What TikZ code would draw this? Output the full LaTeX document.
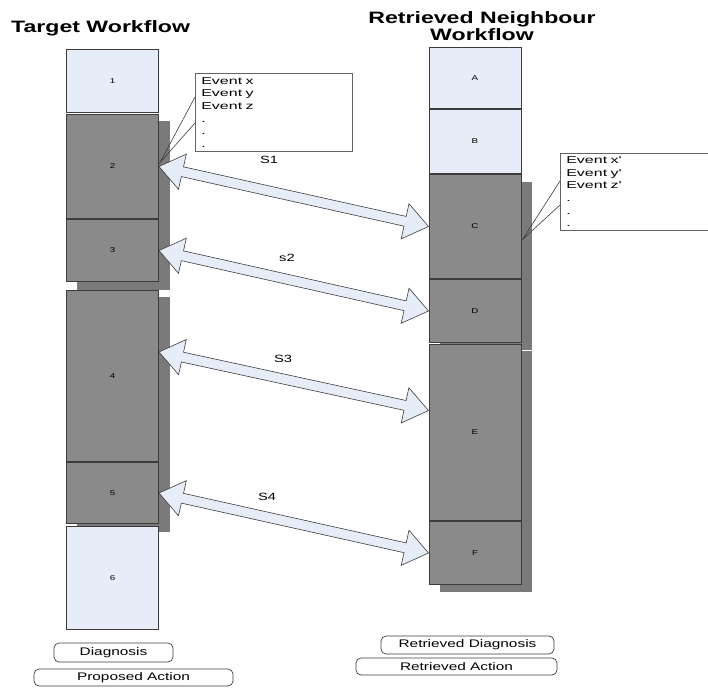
\documentclass[tikz,border=0pt]{standalone}
\usepackage{fontspec}
\setmainfont{Liberation Sans}
\newfontfamily\widefont[FakeStretch=1.4]{Liberation Sans}
\newfontfamily\widerfont[FakeStretch=1.6]{Liberation Sans}
\usetikzlibrary{positioning,calc,backgrounds}

\definecolor{paleblue}{RGB}{230,237,248}
\definecolor{boxgray}{RGB}{138,138,138}
\definecolor{shadowgray}{RGB}{122,122,122}
\definecolor{edgegray}{RGB}{60,60,60}

\tikzset{
  stage/.style = {draw=edgegray, line width=0.7pt, minimum width=92.3pt, inner sep=0pt,
                  font=\widefont\fontsize{7}{8}\selectfont},
  light/.style = {stage, fill=paleblue},
  dark/.style = {stage, fill=boxgray},
  shadow/.style = {fill=shadowgray},
  dblarrow/.style = {draw=edgegray, line width=0.6pt, fill=paleblue, line join=miter},
  callout/.style = {draw=edgegray!80, fill=white, line width=0.6pt, align=left,
                    inner xsep=6pt, inner ysep=0pt, anchor=north west,
                    font=\widerfont\fontsize{10}{12.6}\selectfont},
  tag/.style = {draw=edgegray, rounded corners=5pt, line width=0.7pt, inner sep=0pt,
                font=\widefont\fontsize{11}{12}\selectfont},
  heading/.style = {font=\widefont\bfseries\fontsize{16.5}{17}\selectfont, align=center, inner sep=0pt},
  simlabel/.style = {font=\widefont\fontsize{10.5}{12}\selectfont}
}

% double headed block arrow between two points
\newcommand\blockarrow[2]{%
  \draw[dblarrow] (#1)
    -- ($(#1)!24pt!(#2)!18pt!90:(#2)$) -- ($(#1)!24pt!(#2)!5pt!90:(#2)$)
    -- ($(#2)!24pt!(#1)!5pt!-90:(#1)$) -- ($(#2)!24pt!(#1)!18pt!-90:(#1)$)
    -- (#2)
    -- ($(#2)!24pt!(#1)!18pt!90:(#1)$) -- ($(#2)!24pt!(#1)!5pt!90:(#1)$)
    -- ($(#1)!24pt!(#2)!5pt!-90:(#2)$) -- ($(#1)!24pt!(#2)!18pt!-90:(#2)$)
    -- cycle;}

\begin{document}
\begin{tikzpicture}[x=1pt, y=-1pt]
    \useasboundingbox (0,0) rectangle (708,687);
    \clip (0,0) rectangle (708,687);

    \node[heading, anchor=base west] (ttitle) at (11,33) {Target Workflow};
    \node[heading, anchor=north] (rtitle) at (482,11) {Retrieved Neighbour\\Workflow};

    \begin{scope}[name prefix = target-]
        \node[light, anchor=north, minimum height=63.3pt] (1) at (112.5,49) {1};
        \node[dark, minimum height=104.3pt, below=1pt of 1] (2) {2};
        \node[dark, minimum height=62.3pt, below=0pt of 2] (3) {3};
        \node[dark, minimum height=171.3pt, below=8pt of 3] (4) {4};
        \node[dark, minimum height=61.3pt, below=0pt of 4] (5) {5};
        \node[light, minimum height=103.3pt, below=2pt of 5] (6) {6};
    \end{scope}

    \begin{scope}[name prefix = retr-]
        \node[light, anchor=north, minimum height=61.3pt] (A) at (475,47) {A};
        \node[light, minimum height=64.3pt, below=0pt of A] (B) {B};
        \node[dark, minimum height=104.3pt, below=0pt of B] (C) {C};
        \node[dark, minimum height=63.3pt, below=0pt of C] (D) {D};
        \node[dark, minimum height=176.3pt, below=1pt of D] (E) {E};
        \node[dark, minimum height=63.3pt, below=0pt of E] (F) {F};
    \end{scope}

    \begin{scope}[on background layer]
        \fill[shadow] ($(target-2.north west)+(11,7)$) rectangle ($(target-3.south east)+(11,8)$);
        \fill[shadow] ($(target-4.north west)+(11,7)$) rectangle ($(target-5.south east)+(11,8)$);
        \fill[shadow] ($(retr-C.north west)+(11,8)$) rectangle ($(retr-D.south east)+(10,7)$);
        \fill[shadow] ($(retr-E.north west)+(11,7)$) rectangle ($(retr-F.south east)+(10,7)$);
    \end{scope}

    \coordinate (s3from) at ($(target-4.east)+(0,-24)$);
    \coordinate (s3to) at ($(retr-E.west)+(0,-22)$);
    \foreach \a/\b in {target-2.east/retr-C.west, target-3.east/retr-D.west,
                       s3from/s3to, target-5.east/retr-F.west}
        \blockarrow{\a}{\b};

    \node[simlabel] (S1) at (269,160) {S1};
    \node[simlabel] (S2) at (287,258) {s2};
    \node[simlabel] (S3) at (283,359) {S3};
    \node[simlabel] (S4) at (267,497) {S4};

    % event lists
    \node[callout, text width=145pt, minimum height=78pt] (ev1) at (195,73)
        {Event x\\Event y\\Event z\\.\\.\\.};
    \coordinate (ptr1) at ($(target-2.east)+(1,-4)$);
    \draw[edgegray, line width=0.6pt] ($(ev1.north west)+(0,24)$) -- (ptr1) -- ($(ev1.north west)+(0,50)$);

    \node[callout, text width=140pt, minimum height=77pt] (ev2) at (560,153)
        {Event x'\\Event y'\\Event z'\\.\\.\\.};
    \coordinate (ptr2) at ($(retr-C.east)+(1,13)$);
    \draw[edgegray, line width=0.6pt] ($(ev2.north west)+(0,28)$) -- (ptr2) -- ($(ev2.north west)+(0,52)$);

    % outputs
    \node[tag, minimum width=119pt, minimum height=19pt] (diag) at (113.5,652.5) {Diagnosis};
    \node[tag, minimum width=199pt, minimum height=17pt] (action) at (133.5,677.5) {Proposed Action};
    \node[tag, minimum width=173pt, minimum height=18pt] (rdiag) at (467.5,645) {Retrieved Diagnosis};
    \node[tag, minimum width=201pt, minimum height=17pt] (raction) at (456.5,666.5) {Retrieved Action};
\end{tikzpicture}
\end{document}
